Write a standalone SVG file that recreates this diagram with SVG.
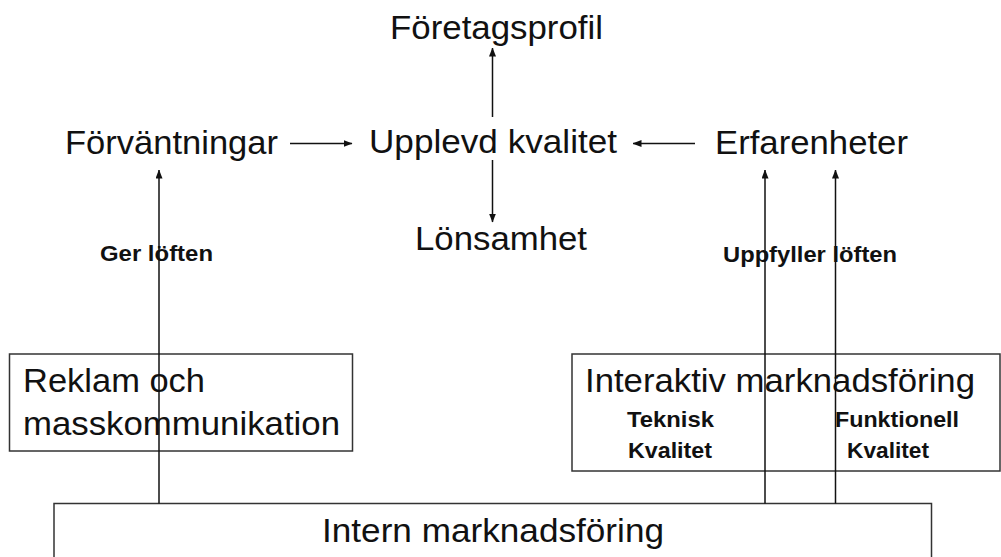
<svg xmlns="http://www.w3.org/2000/svg" width="1001" height="557" viewBox="0 0 1001 557">
  <defs>
    <marker id="arrow" markerUnits="userSpaceOnUse" markerWidth="9" markerHeight="8" refX="8.5" refY="3.5" orient="auto">
      <path d="M0,0 L9,3.5 L0,7 z" fill="#111"/>
    </marker>
    <style>
      .big { font-family: "Liberation Sans", Arial, sans-serif; font-size: 33px; fill: #111; }
      .small { font-family: "Liberation Sans", Arial, sans-serif; font-size: 22px; font-weight: bold; fill: #111; }
      .box { fill: none; stroke: #333; stroke-width: 1.5; }
      .conn { stroke: #111; stroke-width: 1.5; fill: none; }
    </style>
  </defs>
  <rect x="0" y="0" width="1001" height="557" fill="#ffffff"/>

  <g id="node-foretagsprofil">
    <text class="big" x="390" y="39" textLength="213" lengthAdjust="spacingAndGlyphs">Företagsprofil</text>
  </g>
  <g id="node-forvantningar">
    <text class="big" x="65" y="154" textLength="213" lengthAdjust="spacingAndGlyphs">Förväntningar</text>
  </g>
  <g id="node-upplevd-kvalitet">
    <text class="big" x="369" y="153" textLength="248" lengthAdjust="spacingAndGlyphs">Upplevd kvalitet</text>
  </g>
  <g id="node-erfarenheter">
    <text class="big" x="715" y="154" textLength="193" lengthAdjust="spacingAndGlyphs">Erfarenheter</text>
  </g>
  <g id="node-lonsamhet">
    <text class="big" x="415" y="250" textLength="172" lengthAdjust="spacingAndGlyphs">Lönsamhet</text>
  </g>

  <g id="node-reklam">
    <rect class="box" x="9.5" y="354" width="343" height="97"/>
    <text class="big" x="23" y="392" textLength="182" lengthAdjust="spacingAndGlyphs">Reklam och</text>
    <text class="big" x="23" y="435" textLength="317" lengthAdjust="spacingAndGlyphs">masskommunikation</text>
  </g>

  <g id="node-interaktiv">
    <rect class="box" x="572" y="354" width="428" height="117"/>
    <text class="big" x="585" y="392" textLength="390" lengthAdjust="spacingAndGlyphs">Interaktiv marknadsföring</text>
    <text class="small" x="627" y="427" textLength="87" lengthAdjust="spacingAndGlyphs">Teknisk</text>
    <text class="small" x="628" y="458" textLength="84" lengthAdjust="spacingAndGlyphs">Kvalitet</text>
    <text class="small" x="835" y="427" textLength="124" lengthAdjust="spacingAndGlyphs">Funktionell</text>
    <text class="small" x="847" y="458" textLength="82" lengthAdjust="spacingAndGlyphs">Kvalitet</text>
  </g>

  <g id="node-intern">
    <rect class="box" x="54" y="503.5" width="877.5" height="70"/>
    <text class="big" x="322" y="542" textLength="342" lengthAdjust="spacingAndGlyphs">Intern marknadsföring</text>
  </g>

  <g id="connectors">
    <line class="conn" x1="290" y1="143.5" x2="352" y2="143.5" marker-end="url(#arrow)"/>
    <line class="conn" x1="695" y1="143.5" x2="633" y2="143.5" marker-end="url(#arrow)"/>
    <line class="conn" x1="492.5" y1="117" x2="492.5" y2="48" marker-end="url(#arrow)"/>
    <line class="conn" x1="492.5" y1="160" x2="492.5" y2="222" marker-end="url(#arrow)"/>
    <line class="conn" x1="159" y1="503.5" x2="159" y2="170" marker-end="url(#arrow)"/>
    <line class="conn" x1="765" y1="503.5" x2="765" y2="170" marker-end="url(#arrow)"/>
    <line class="conn" x1="835.5" y1="503.5" x2="835.5" y2="170" marker-end="url(#arrow)"/>
    <text class="small" x="100" y="261" textLength="113" lengthAdjust="spacingAndGlyphs">Ger löften</text>
    <text class="small" x="723" y="262" textLength="174" lengthAdjust="spacingAndGlyphs">Uppfyller löften</text>
  </g>
</svg>
